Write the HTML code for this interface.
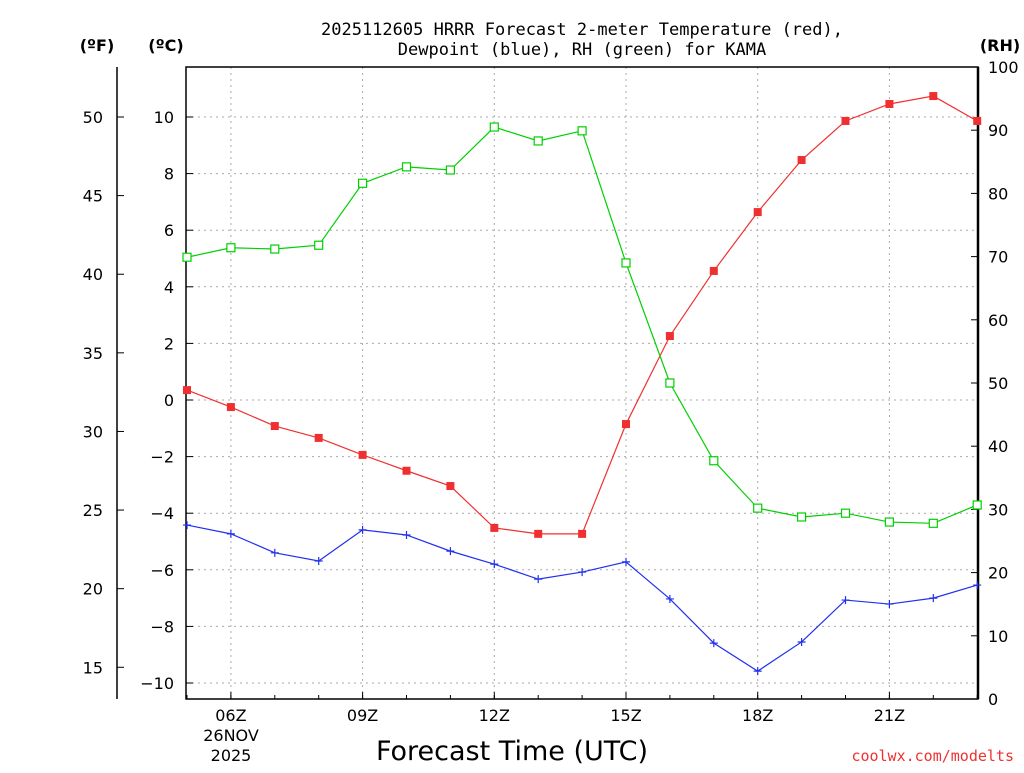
<!DOCTYPE html>
<html><head><meta charset="utf-8"><style>
body{margin:0;background:#fff;width:1024px;height:768px;overflow:hidden}
svg{font-family:"DejaVu Sans","Liberation Sans",sans-serif}
</style></head><body>
<svg id="c" width="1024" height="768">
<g id="g"></g>
</svg>
<script>
const hours=[5,6,7,8,9,10,11,12,13,14,15,16,17,18,19,20,21,22,23];
const tempC=[0.35,-0.25,-0.92,-1.34,-1.94,-2.5,-3.04,-4.52,-4.73,-4.73,-0.85,2.26,4.56,6.64,8.48,9.86,10.46,10.74,9.86];
const dewC=[-4.42,-4.73,-5.4,-5.69,-4.59,-4.77,-5.34,-5.8,-6.33,-6.08,-5.72,-7.03,-8.59,-9.58,-8.55,-7.07,-7.21,-7.0,-6.54];
const rh=[69.9,71.4,71.2,71.8,81.6,84.2,83.7,90.5,88.3,89.9,69,50,37.7,30.2,28.8,29.4,28,27.8,30.7];
const cTicks=[10,8,6,4,2,0,-2,-4,-6,-8,-10];
const fTicks=[50,45,40,35,30,25,20,15];
const rhTicks=[0,10,20,30,40,50,60,70,80,90,100];
const xTicks=[6,9,12,15,18,21];
const xLabels=["06Z","09Z","12Z","15Z","18Z","21Z"];
const L=186,R=978,T=67,B=699;
const x=h=>187+(h-5)*43.9;
const yC=c=>400-c*28.3;
const yF=f=>yC((f-32)*5/9);
const yR=r=>B-r*(B-T)/100;
const g=document.getElementById('g');
const NS='http://www.w3.org/2000/svg';
function el(t,a,txt){const e=document.createElementNS(NS,t);for(const k in a)e.setAttribute(k,a[k]);if(txt!==undefined)e.textContent=txt;g.appendChild(e);return e;}
// grid
xTicks.forEach(h=>{const e=el('line',{x1:x(h),x2:x(h),y1:T,y2:B,stroke:'#aaa','stroke-dasharray':'2,4'});

});
cTicks.forEach(c=>{const e=el('line',{x1:L,x2:R,y1:yC(c),y2:yC(c),stroke:'#aaa','stroke-dasharray':'2,4'});

});
// frame
let f=el('rect',{x:L,y:T,width:R-L,height:B-T,fill:'none',stroke:'#000','stroke-width':1.5});


el('line',{x1:R,x2:R,y1:T,y2:B,stroke:'#000','stroke-width':2.5});
el('line',{x1:117,x2:117,y1:T,y2:B,stroke:'#000','stroke-width':1.5});
// ticks & labels
cTicks.forEach(c=>{el('line',{x1:L,x2:L+7,y1:yC(c),y2:yC(c),stroke:'#000'});
const t=el('text',{x:174,y:yC(c)+6,'text-anchor':'end','font-size':16},c<0?'\u2212'+(-c):c);

});
fTicks.forEach(v=>{el('line',{x1:117,x2:124,y1:yF(v),y2:yF(v),stroke:'#000'});
const t=el('text',{x:103,y:yF(v)+6,'text-anchor':'end','font-size':16},v);

});
rhTicks.forEach(v=>{el('line',{x1:R-7,x2:R,y1:yR(v),y2:yR(v),stroke:'#000'});
const t=el('text',{x:988,y:yR(v)+6,'font-size':16},v);

});
xTicks.forEach((h,i)=>{el('line',{x1:x(h),x2:x(h),y1:B-7,y2:B,stroke:'#000'});
const t=el('text',{x:x(h),y:721,'text-anchor':'middle','font-size':16},xLabels[i]);

});
for(let h=5;h<=23;h++)el('line',{x1:x(h),x2:x(h),y1:B-4,y2:B,stroke:'#000'});
el('text',{x:231,y:741,'text-anchor':'middle','font-size':16},'26NOV');
el('text',{x:231,y:761,'text-anchor':'middle','font-size':16},'2025');
// series
function series(vals,yf,color,name,marker){
const p=el('polyline',{points:vals.map((v,i)=>x(hours[i])+','+yf(v)).join(' '),fill:'none',stroke:color,'stroke-width':1.2});


vals.forEach((v,i)=>{const cx=x(hours[i]),cy=yf(v);let m;
if(marker==='fill')m=el('rect',{x:cx-4,y:cy-4,width:8,height:8,fill:color});
else if(marker==='open')m=el('rect',{x:cx-4,y:cy-4,width:8,height:8,fill:'#fff',stroke:color,'stroke-width':1.2});
else m=el('path',{d:`M${cx-4} ${cy}H${cx+4}M${cx} ${cy-4}V${cy+4}`,stroke:color,'stroke-width':1.2});

});}
series(tempC,yC,'#f03030','temperature','fill');
series(dewC,yC,'#2030f0','dewpoint','plus');
series(rh,yR,'#00d000','rh','open');
</script>
<svg width="1024" height="768" style="position:absolute;left:0;top:0">
<text x="582" y="35" text-anchor="middle" font-size="17" font-family="DejaVu Sans Mono,Liberation Mono,monospace">2025112605 HRRR Forecast 2-meter Temperature (red),</text>
<text x="582" y="55" text-anchor="middle" font-size="17" font-family="DejaVu Sans Mono,Liberation Mono,monospace">Dewpoint (blue), RH (green) for KAMA</text>
<text x="97" y="51" text-anchor="middle" font-size="16" font-weight="bold" font-family="DejaVu Sans,sans-serif">(ºF)</text>
<text x="166" y="51" text-anchor="middle" font-size="16" font-weight="bold" font-family="DejaVu Sans,sans-serif">(ºC)</text>
<text x="1000" y="51" text-anchor="middle" font-size="16" font-weight="bold" font-family="DejaVu Sans,sans-serif">(RH)</text>
<text x="512" y="760" text-anchor="middle" font-size="27" font-family="DejaVu Sans,sans-serif">Forecast Time (UTC)</text>
<text x="1014" y="761" text-anchor="end" font-size="15" fill="#f03030" font-family="DejaVu Sans Mono,monospace">coolwx.com/modelts</text>
</svg>
</body></html>
